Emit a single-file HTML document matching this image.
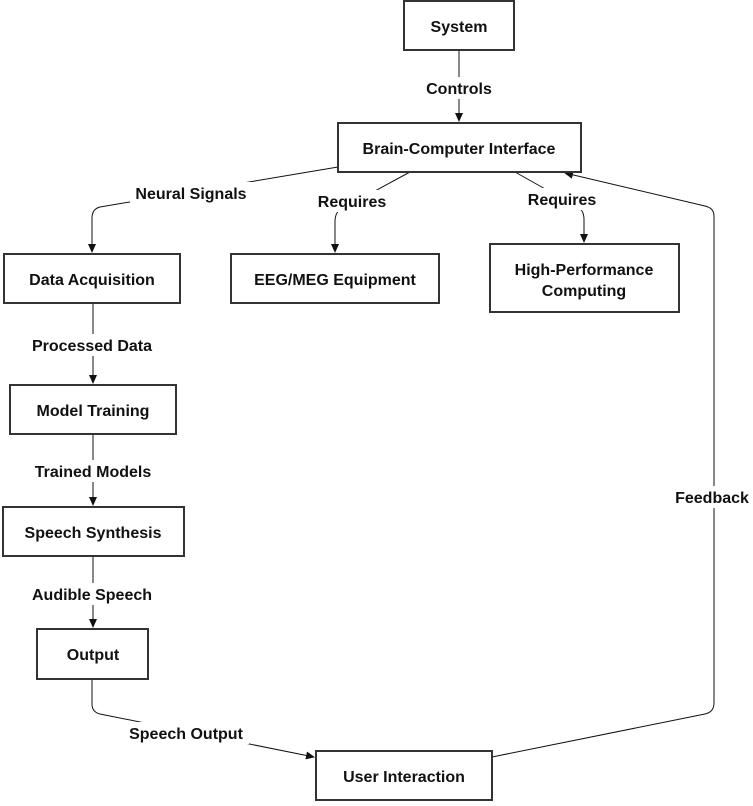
<!DOCTYPE html>
<html><head><style>
body{margin:0;background:#fff;}
svg text{font-family:"Liberation Sans",Arial,sans-serif;font-weight:bold;font-size:16px;fill:#111;text-anchor:middle;}
</style></head><body>
<svg width="753" height="801" viewBox="0 0 753 801" xmlns="http://www.w3.org/2000/svg">
<defs><marker id="a" markerWidth="10" markerHeight="10" refX="8" refY="5" orient="auto" markerUnits="userSpaceOnUse"><path d="M0,1 L9,5 L0,9 Z" fill="#111"/></marker></defs>
<g fill="none" stroke="#111" stroke-width="1">
<path d="M459,50 V121" marker-end="url(#a)"/>
<path d="M338,167 L100,207 Q92,209 92,218 V252" marker-end="url(#a)"/>
<path d="M410,172 L340,210 Q335,213 335,222 V252" marker-end="url(#a)"/>
<path d="M515,172 L579,208 Q584,211 584,220 V242" marker-end="url(#a)"/>
<path d="M93,303 V383" marker-end="url(#a)"/>
<path d="M93,434 V505" marker-end="url(#a)"/>
<path d="M93,556 V627" marker-end="url(#a)"/>
<path d="M92,679 V704 Q92,712 100,714 L314,757" marker-end="url(#a)"/>
<path d="M492,757 L705,714 Q714,712 714,703 V216 Q714,208 705,206 L565,173" marker-end="url(#a)"/>
</g>
<g fill="#fff" stroke="#333" stroke-width="2">
<rect x="404" y="1" width="110" height="49"/>
<rect x="338" y="123" width="243" height="49"/>
<rect x="4" y="254" width="176" height="49"/>
<rect x="231" y="254" width="208" height="49"/>
<rect x="490" y="244" width="189" height="68"/>
<rect x="10" y="385" width="166" height="49"/>
<rect x="3" y="507" width="181" height="49"/>
<rect x="37" y="629" width="111" height="50"/>
<rect x="316" y="751" width="176" height="49"/>
</g>
<g fill="#fff">
<rect x="418" y="77" width="82" height="22"/>
<rect x="130" y="182" width="122" height="22"/>
<rect x="312" y="190" width="80" height="22"/>
<rect x="522" y="188" width="80" height="22"/>
<rect x="26" y="334" width="134" height="22"/>
<rect x="28" y="460" width="130" height="22"/>
<rect x="24" y="583" width="136" height="22"/>
<rect x="123" y="722" width="126" height="22"/>
<rect x="672" y="486" width="81" height="22"/>
</g>
<text x="459" y="32">System</text>
<text x="459" y="154">Brain-Computer Interface</text>
<text x="92" y="285">Data Acquisition</text>
<text x="335" y="285">EEG/MEG Equipment</text>
<text x="584" y="275">High-Performance</text>
<text x="584" y="296">Computing</text>
<text x="93" y="416">Model Training</text>
<text x="93" y="538">Speech Synthesis</text>
<text x="93" y="660">Output</text>
<text x="404" y="782">User Interaction</text>
<text x="459" y="94">Controls</text>
<text x="191" y="199">Neural Signals</text>
<text x="352" y="207">Requires</text>
<text x="562" y="205">Requires</text>
<text x="92" y="351">Processed Data</text>
<text x="93" y="477">Trained Models</text>
<text x="92" y="600">Audible Speech</text>
<text x="186" y="739">Speech Output</text>
<text x="712" y="503">Feedback</text>
</svg>
</body></html>
